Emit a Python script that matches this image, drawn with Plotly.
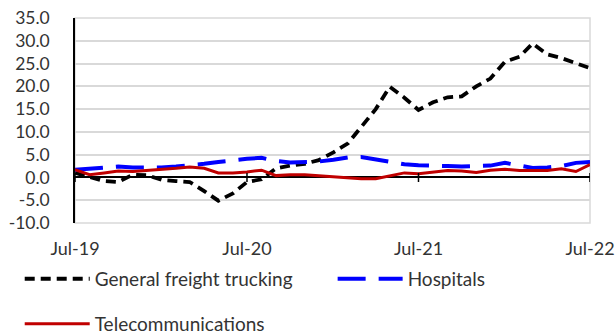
import pandas as pd
import plotly.graph_objects as go

# Monthly observations, Jul-2019 through Jul-2022
months = pd.date_range("2019-07-01", "2022-07-01", freq="MS")

freight = [1.0, 0.0, -0.8, -1.0, 0.6, 0.5, -0.5, -0.8, -1.0, -3.0,
           -5.1, -3.5, -1.0, -0.4, 2.0, 2.6, 3.0, 3.8, 5.5, 7.5,
           11.0, 15.0, 19.9, 17.5, 14.8, 16.5, 17.6, 17.8, 20.0, 21.7,
           25.4, 26.5, 29.4, 27.0, 26.2, 25.0, 24.0]

hospitals = [1.7, 1.9, 2.1, 2.4, 2.2, 2.1, 2.2, 2.4, 2.6, 3.0,
             3.4, 3.8, 4.1, 4.3, 3.6, 3.3, 3.3, 3.5, 3.9, 4.4,
             4.5, 3.9, 3.4, 2.9, 2.7, 2.7, 2.5, 2.4, 2.4, 2.6,
             3.2, 2.6, 2.1, 2.2, 2.5, 3.2, 3.4]

telecom = [1.7, 0.6, 1.0, 1.4, 1.3, 1.5, 1.7, 2.0, 2.3, 2.0,
           1.0, 1.0, 1.2, 1.6, 0.4, 0.6, 0.6, 0.4, 0.2, 0.0,
           -0.3, -0.3, 0.3, 1.0, 0.8, 1.2, 1.5, 1.4, 1.1, 1.6,
           1.8, 1.5, 1.5, 1.5, 1.9, 1.3, 2.8]

x_ticks = pd.to_datetime(["2019-07-01", "2020-07-01", "2021-07-01", "2022-07-01"])
x_tick_labels = ["Jul-19", "Jul-20", "Jul-21", "Jul-22"]
y_ticks = list(range(-10, 40, 5))
y_tick_labels = [f"{v:.1f}" for v in y_ticks]

FONT = "Lato"
TEXT = "#333333"
GRID = "#D9D9D9"

fig = go.Figure()
fig.add_trace(go.Scatter(
    x=months, y=freight, name="General freight trucking", mode="lines",
    line=dict(color="black", width=3.8, dash="10px,6px"), legend="legend"))
fig.add_trace(go.Scatter(
    x=months, y=hospitals, name="Hospitals", mode="lines",
    line=dict(color="#0000FF", width=4, dash="28px,13px"), legend="legend2"))
fig.add_trace(go.Scatter(
    x=months, y=telecom, name="Telecommunications", mode="lines",
    line=dict(color="#C00000", width=3), legend="legend3"))

# short tick marks crossing the zero line at each labelled date
for t in x_ticks:
    fig.add_shape(type="line", x0=t, x1=t, y0=-1.0, y1=1.0,
                  xref="x", yref="y", line=dict(color="black", width=1.5))

# light plot-area frame
fig.add_shape(type="rect", xref="paper", yref="paper", x0=0, x1=1, y0=0, y1=1,
              line=dict(color=GRID, width=1.5), layer="below")

legend_common = dict(orientation="h", xref="container", yref="container",
                     xanchor="left", yanchor="middle", itemwidth=65,
                     font=dict(family=FONT, size=19, color=TEXT),
                     bgcolor="rgba(0,0,0,0)")

fig.update_layout(
    width=616, height=334,
    margin=dict(l=75, r=26, t=18, b=111, autoexpand=False),
    paper_bgcolor="white", plot_bgcolor="white",
    font=dict(family=FONT, size=18, color=TEXT),
    xaxis=dict(
        type="date", range=[x_ticks[0], x_ticks[-1]],
        tickmode="array", tickvals=x_ticks, ticktext=x_tick_labels,
        showgrid=False, zeroline=False, showline=False,
        ticks="", ticklabelstandoff=13, automargin=False,
        tickfont=dict(family=FONT, size=18, color=TEXT)),
    yaxis=dict(
        range=[-10, 35], tickmode="array", tickvals=y_ticks, ticktext=y_tick_labels,
        showgrid=True, gridcolor=GRID, gridwidth=1.5,
        zeroline=True, zerolinecolor="black", zerolinewidth=1.5,
        showline=True, linecolor="black", linewidth=1.5,
        ticks="", ticklabelstandoff=20, automargin=False,
        tickfont=dict(family=FONT, size=17.5, color=TEXT)),
    legend=dict(x=0.032, y=0.165, **legend_common),
    legend2=dict(x=0.54, y=0.165, **legend_common),
    legend3=dict(x=0.032, y=0.03, **legend_common),
    showlegend=True,
)

fig.write_html("out.html")
